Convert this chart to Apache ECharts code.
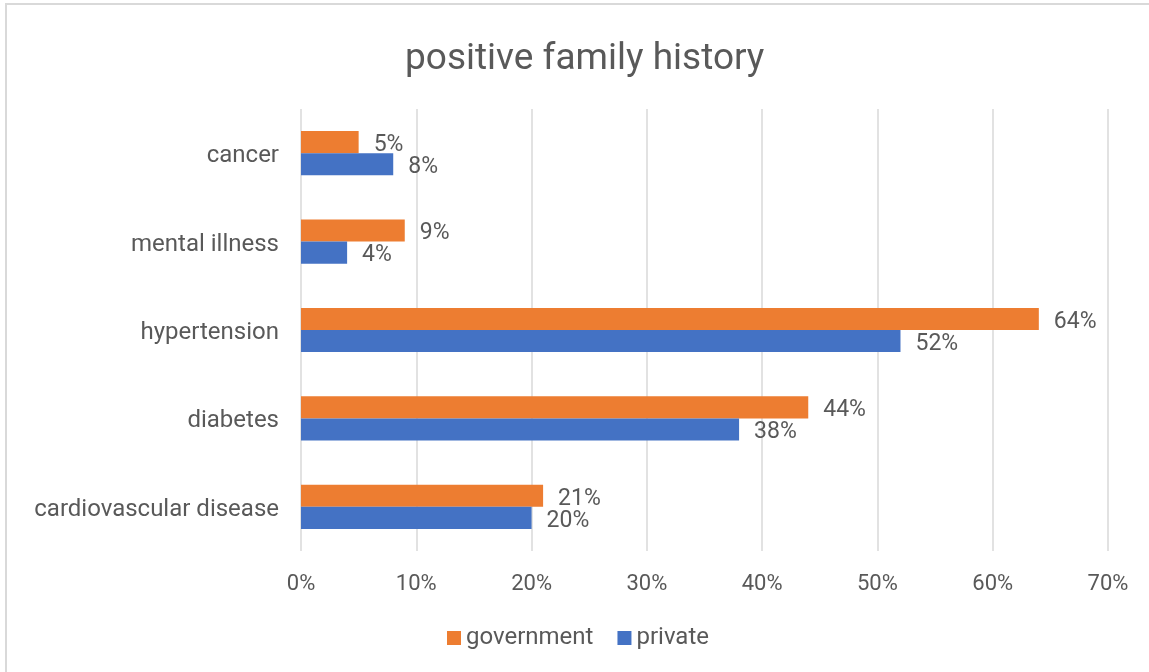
<!DOCTYPE html>
<html>
<head>
<meta charset="utf-8">
<script src="https://cdn.jsdelivr.net/npm/echarts@6/dist/echarts.min.js"></script>
<style>
  html, body { margin: 0; padding: 0; background: #fff; }
  #chart { width: 1149px; height: 672px; }
</style>
</head>
<body>
<div id="chart"></div>
<script>
const titleText = 'positive family history';
const categories = ['cancer', 'mental illness', 'hypertension', 'diabetes', 'cardiovascular disease'];
const seriesNames = ['government', 'private'];
const government = [5, 9, 64, 44, 21];
const privateVals = [8, 4, 52, 38, 20];
const xTicks = [0, 10, 20, 30, 40, 50, 60, 70];

const textColor = '#595959';
const fontFamily = 'Roboto, "Noto Sans", sans-serif';

const chart = echarts.init(document.getElementById('chart'));
chart.setOption({
  backgroundColor: '#ffffff',
  animation: false,
  graphic: [{
    type: 'rect',
    shape: { x: 6, y: 4, width: 1300, height: 800 },
    style: { fill: 'none', stroke: '#d9d9d9', lineWidth: 2 },
    silent: true,
    z: -1
  }],
  title: {
    text: titleText,
    left: 405,
    top: 41,
    padding: 0,
    textStyle: { color: textColor, fontSize: 37, fontWeight: 'normal', fontFamily: fontFamily }
  },
  legend: {
    data: seriesNames,
    bottom: 17,
    left: 442,
    itemWidth: 14,
    itemHeight: 14,
    itemGap: 24,
    icon: 'rect',
    textStyle: { color: textColor, fontSize: 24, fontFamily: fontFamily }
  },
  grid: { left: 301, right: 41, top: 109, bottom: 121, containLabel: false },
  xAxis: {
    type: 'value',
    min: xTicks[0],
    max: xTicks[xTicks.length - 1],
    interval: 10,
    axisLine: { show: false },
    axisTick: { show: false },
    splitLine: { lineStyle: { color: '#d9d9d9', width: 1.5 } },
    axisLabel: { formatter: '{value}%', color: textColor, fontSize: 22, margin: 22, fontFamily: fontFamily }
  },
  yAxis: {
    type: 'category',
    inverse: true,
    data: categories,
    axisLine: { show: false },
    axisTick: { show: false },
    axisLabel: { color: textColor, fontSize: 24, margin: 22, verticalAlign: 'top', lineHeight: 6, fontFamily: fontFamily }
  },
  series: [
    {
      name: seriesNames[0],
      type: 'bar',
      data: government,
      itemStyle: { color: '#ED7D31' },
      barGap: '0%',
      barCategoryGap: '50%',
      label: { show: true, position: 'right', distance: 15, offset: [0, 3], formatter: '{c}%', color: textColor, fontSize: 23, fontFamily: fontFamily }
    },
    {
      name: seriesNames[1],
      type: 'bar',
      data: privateVals,
      itemStyle: { color: '#4472C4' },
      barGap: '0%',
      barCategoryGap: '50%',
      label: { show: true, position: 'right', distance: 15, offset: [0, 3], formatter: '{c}%', color: textColor, fontSize: 23, fontFamily: fontFamily }
    }
  ]
});
</script>
</body>
</html>
